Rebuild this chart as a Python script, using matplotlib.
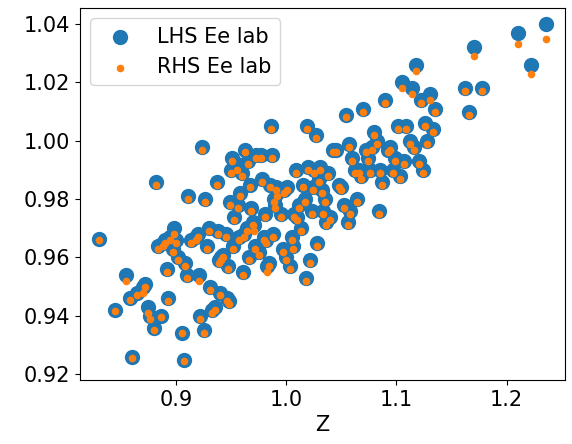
import matplotlib.pyplot as plt

# (Z, LHS Ee lab, RHS Ee lab)
points = [
    (0.830, 0.9665, 0.9660), (0.845, 0.942, 0.9415), (0.855, 0.954, 0.952), (0.858, 0.946, 0.9455),
    (0.860, 0.926, 0.9255), (0.865, 0.948, 0.947), (0.870, 0.950, 0.948), (0.872, 0.951, 0.950),
    (0.875, 0.943, 0.941), (0.876, 0.940, 0.939), (0.880, 0.936, 0.935), (0.882, 0.986, 0.985),
    (0.884, 0.964, 0.963), (0.886, 0.940, 0.9395), (0.888, 0.965, 0.964), (0.890, 0.966, 0.965),
    (0.892, 0.956, 0.955), (0.893, 0.946, 0.945), (0.895, 0.967, 0.966), (0.897, 0.963, 0.962),
    (0.898, 0.970, 0.968), (0.900, 0.966, 0.965), (0.902, 0.960, 0.959), (0.905, 0.934, 0.934),
    (0.907, 0.925, 0.9245), (0.908, 0.958, 0.957), (0.910, 0.954, 0.953), (0.911, 0.981, 0.980),
    (0.914, 0.966, 0.965), (0.918, 0.967, 0.966), (0.920, 0.968, 0.967), (0.921, 0.954, 0.952),
    (0.922, 0.940, 0.939), (0.924, 0.998, 0.997), (0.925, 0.935, 0.934), (0.926, 0.980, 0.979),
    (0.928, 0.964, 0.963), (0.930, 0.970, 0.969), (0.931, 0.950, 0.949), (0.933, 0.942, 0.941),
    (0.935, 0.943, 0.942), (0.937, 0.986, 0.985), (0.938, 0.969, 0.968), (0.939, 0.959, 0.958),
    (0.940, 0.948, 0.947), (0.941, 0.960, 0.959), (0.943, 0.961, 0.960), (0.945, 0.968, 0.967),
    (0.946, 0.946, 0.945), (0.947, 0.957, 0.956), (0.948, 0.945, 0.944), (0.949, 0.979, 0.978),
    (0.950, 0.990, 0.989), (0.951, 0.994, 0.993), (0.952, 0.964, 0.963), (0.953, 0.974, 0.973),
    (0.955, 0.992, 0.990), (0.956, 0.978, 0.977), (0.957, 0.967, 0.966), (0.958, 0.982, 0.981),
    (0.960, 0.989, 0.988), (0.961, 0.955, 0.954), (0.962, 0.968, 0.967), (0.963, 0.997, 0.996),
    (0.964, 0.970, 0.969), (0.965, 0.993, 0.992), (0.966, 0.960, 0.959), (0.967, 0.985, 0.984),
    (0.968, 0.977, 0.976), (0.970, 0.972, 0.971), (0.971, 0.971, 0.969), (0.972, 0.964, 0.963),
    (0.973, 0.995, 0.994), (0.975, 0.962, 0.961), (0.977, 0.995, 0.994), (0.978, 0.987, 0.986),
    (0.980, 0.967, 0.966), (0.981, 0.975, 0.974), (0.982, 0.966, 0.965), (0.983, 0.957, 0.955),
    (0.984, 0.958, 0.957), (0.985, 0.985, 0.984), (0.986, 1.005, 1.004), (0.987, 0.995, 0.994),
    (0.988, 0.968, 0.967), (0.989, 0.980, 0.979), (0.990, 0.978, 0.977), (0.991, 0.984, 0.983),
    (0.992, 0.982, 0.981), (0.995, 0.975, 0.974), (0.997, 0.963, 0.962), (0.998, 0.983, 0.982),
    (1.000, 0.960, 0.959), (1.001, 0.984, 0.983), (1.003, 0.957, 0.956), (1.005, 0.967, 0.966),
    (1.006, 0.964, 0.963), (1.007, 0.975, 0.974), (1.009, 0.990, 0.989), (1.010, 0.974, 0.973),
    (1.012, 0.978, 0.977), (1.013, 0.970, 0.969), (1.015, 0.985, 0.984), (1.017, 0.980, 0.979),
    (1.018, 0.953, 0.952), (1.019, 1.005, 1.004), (1.020, 0.991, 0.990), (1.022, 0.959, 0.958),
    (1.023, 0.976, 0.975), (1.024, 0.984, 0.983), (1.025, 0.990, 0.989), (1.027, 1.002, 1.001),
    (1.028, 0.965, 0.964), (1.030, 0.987, 0.986), (1.031, 0.991, 0.990), (1.032, 0.983, 0.982),
    (1.033, 0.976, 0.975), (1.035, 0.980, 0.979), (1.036, 0.972, 0.971), (1.038, 0.989, 0.988),
    (1.040, 0.974, 0.973), (1.042, 0.997, 0.996), (1.045, 0.997, 0.996), (1.048, 0.985, 0.984),
    (1.050, 0.984, 0.983), (1.052, 0.978, 0.977), (1.054, 1.009, 1.008), (1.056, 0.972, 0.971),
    (1.057, 0.999, 0.998), (1.058, 0.976, 0.975), (1.060, 0.994, 0.993), (1.062, 0.990, 0.989),
    (1.064, 0.980, 0.979), (1.066, 0.990, 0.989), (1.068, 0.988, 0.987), (1.070, 1.011, 1.010),
    (1.072, 0.997, 0.996), (1.074, 0.994, 0.993), (1.076, 0.990, 0.989), (1.078, 0.998, 0.997),
    (1.080, 1.003, 1.002), (1.082, 1.000, 0.999), (1.084, 0.976, 0.975), (1.085, 0.990, 0.989),
    (1.087, 0.986, 0.985), (1.090, 1.014, 1.013), (1.092, 0.997, 0.996), (1.094, 0.998, 0.997),
    (1.097, 0.990, 0.989), (1.099, 0.994, 0.993), (1.101, 1.005, 1.004), (1.103, 0.988, 0.987),
    (1.105, 1.020, 1.018), (1.107, 0.993, 0.992), (1.109, 1.005, 1.004), (1.112, 1.000, 0.999),
    (1.114, 1.018, 1.016), (1.116, 0.998, 0.997), (1.118, 1.026, 1.024), (1.120, 0.993, 0.992),
    (1.122, 1.014, 1.013), (1.124, 0.990, 0.989), (1.126, 1.006, 1.005), (1.128, 1.000, 0.999),
    (1.130, 1.016, 1.014), (1.133, 1.004, 1.003), (1.135, 1.011, 1.010), (1.162, 1.018, 1.017),
    (1.166, 1.010, 1.009), (1.170, 1.032, 1.029), (1.178, 1.018, 1.017), (1.210, 1.037, 1.033),
    (1.222, 1.026, 1.023), (1.236, 1.040, 1.035),
]
z = [p[0] for p in points]
lhs = [p[1] for p in points]
rhs = [p[2] for p in points]

plt.rcParams['font.size'] = 15
fig, ax = plt.subplots(figsize=(5.72, 4.44), dpi=100)
ax.scatter(z, lhs, s=100, color='#1f77b4', label='LHS Ee lab')
ax.scatter(z, rhs, s=20, color='#ff7f0e', label='RHS Ee lab')
ax.set_xlabel('Z')
ax.set_xlim(0.813, 1.253)
ax.set_ylim(0.918, 1.0455)
ax.legend(loc='upper left')
fig.subplots_adjust(left=0.14, right=0.988, top=0.982, bottom=0.144)
fig.savefig('out.png')
